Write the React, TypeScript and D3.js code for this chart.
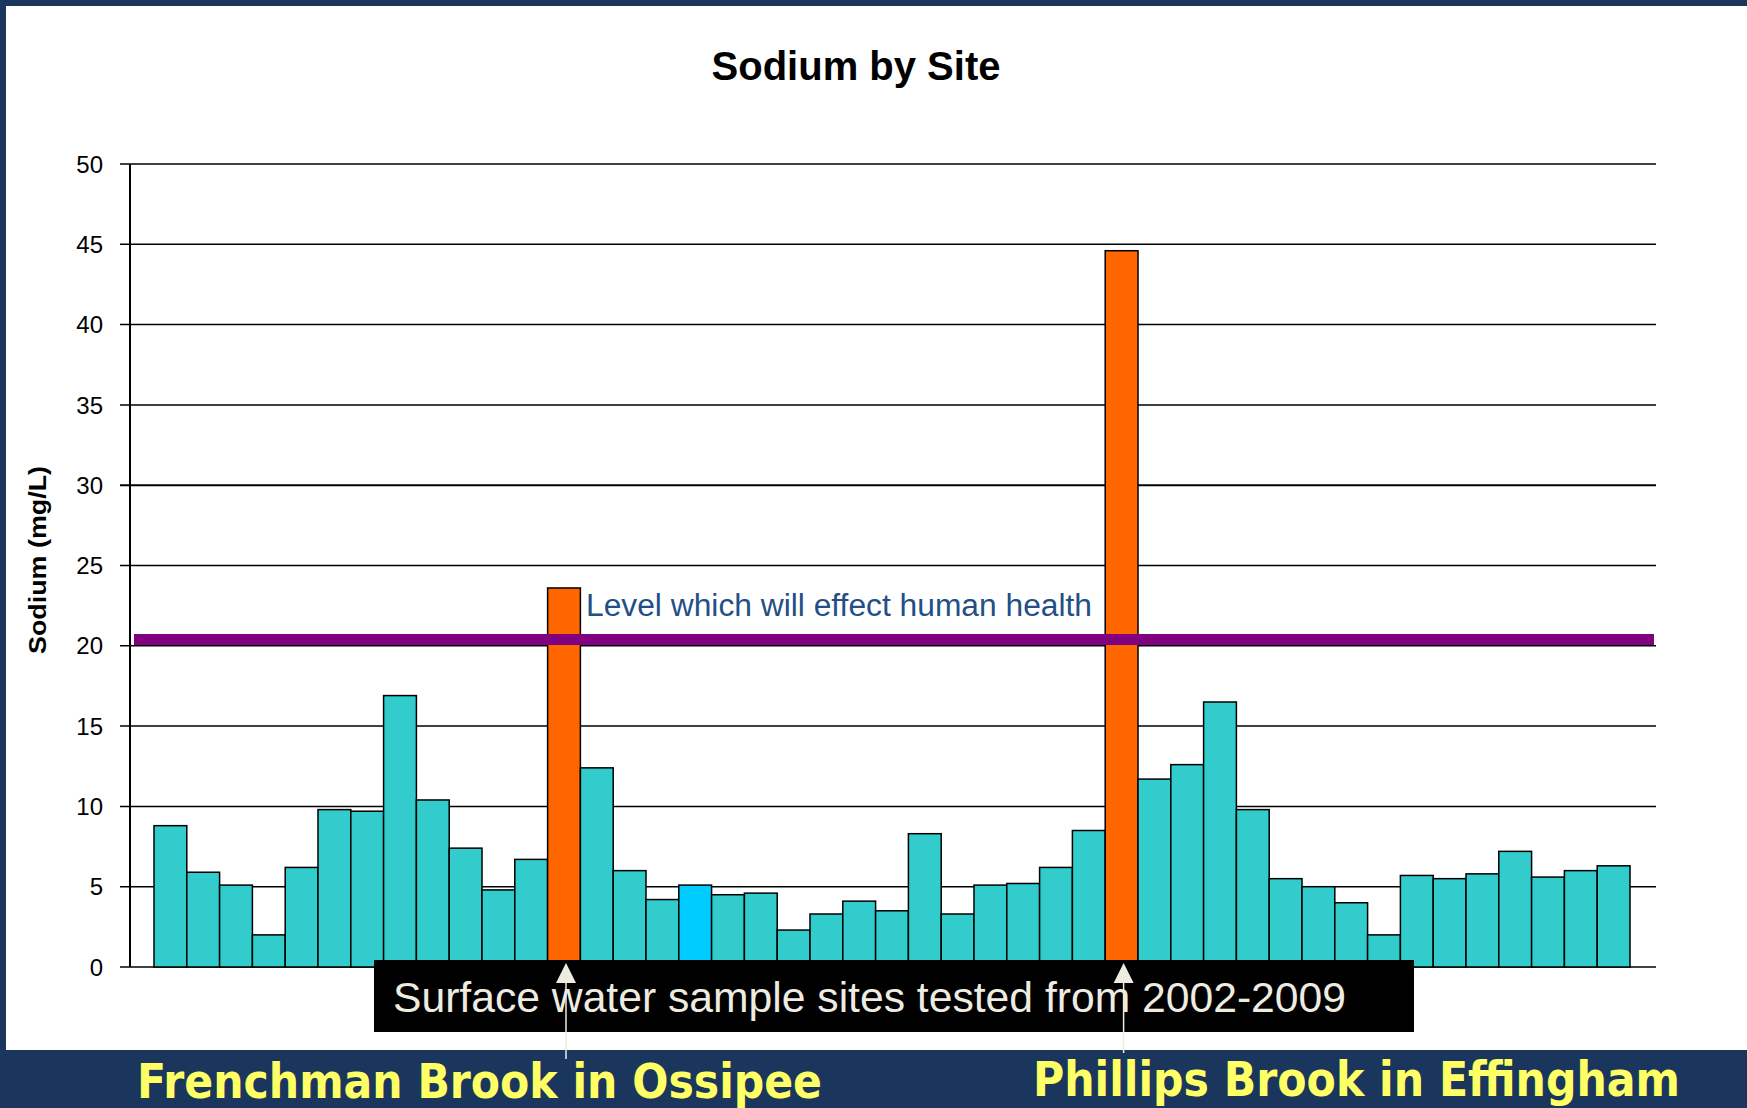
import React from 'react';
import * as d3 from 'd3';

// one value per sample site, read left to right
const sites = d3.range(1, 46).map(i => `Site ${i}`);
const sodium = [
  8.8, 5.9, 5.1, 2.0, 6.2, 9.8, 9.7, 16.9, 10.4, 7.4, 4.8, 6.7, 23.6, 12.4, 6.0,
  4.2, 5.1, 4.5, 4.6, 2.3, 3.3, 4.1, 3.5, 8.3, 3.3, 5.1, 5.2, 6.2, 8.5, 44.6,
  11.7, 12.6, 16.5, 9.8, 5.5, 5.0, 4.0, 2.0, 5.7, 5.5, 5.8, 7.2, 5.6, 6.0, 6.3,
];
const flaggedSites = ['Site 13', 'Site 30'];
const flaggedNames = ['Frenchman Brook in Ossipee', 'Phillips Brook in Effingham'];
const otherSite = 'Site 17';
const yTicks = [0, 5, 10, 15, 20, 25, 30, 35, 40, 45, 50];
const healthLevel = 20.4;

const W = 1747;
const H = 1108;
const navy = '#1b365d';

const App = () => {
  const x = d3.scaleBand<string>().domain(sites).range([154, 1630]).padding(0);
  const y = d3.scaleLinear().domain([0, 50]).range([967, 164]);

  const barColor = (s: string) =>
    flaggedSites.includes(s) ? '#ff6600' : s === otherSite ? '#00ccff' : '#33cccc';

  const arrowX = flaggedSites.map(s => (x(s) ?? 0) + x.bandwidth() / 2 + 2);
  const arrowEnd = [1059, 1053];

  return (
    <svg width={W} height={H} style={{ position: 'absolute', left: 0, top: 0, background: '#fff' }}>
      {/* frame */}
      <rect x={0} y={0} width={W} height={6} fill={navy} />
      <rect x={0} y={0} width={6} height={H} fill={navy} />
      <rect x={0} y={1050} width={W} height={H - 1050} fill={navy} />

      <text x={856} y={80} textAnchor="middle" fontFamily="Liberation Sans, Arial" fontWeight="bold" fontSize={40}>
        Sodium by Site
      </text>

      {/* grid + ticks */}
      {yTicks.map(t => (
        <g key={t}>
          <line x1={120} x2={1656} y1={y(t)} y2={y(t)} stroke="#000" strokeWidth={t === 30 ? 2 : 1.5} />
          <text x={103} y={y(t)} dy="0.36em" textAnchor="end" fontFamily="Liberation Sans, Arial" fontSize={24}>
            {t}
          </text>
        </g>
      ))}

      <text
        transform="translate(46,560) rotate(-90)"
        textAnchor="middle"
        fontFamily="Liberation Sans, Arial"
        fontWeight="bold"
        fontSize={23}
        textLength={188}
        lengthAdjust="spacingAndGlyphs"
      >
        Sodium (mg/L)
      </text>

      {/* bars */}
      {sites.map((s, i) => (
        <rect
          key={s}
          x={x(s)}
          y={y(sodium[i])}
          width={x.bandwidth()}
          height={y(0) - y(sodium[i])}
          fill={barColor(s)}
          stroke="#000"
          strokeWidth={1.5}
        />
      ))}

      <line x1={130} x2={130} y1={164} y2={967} stroke="#000" strokeWidth={2} />

      {/* health level */}
      <line x1={134} x2={1654} y1={y(healthLevel)} y2={y(healthLevel)} stroke="#800080" strokeWidth={11} />
      <text
        x={586}
        y={616}
        fontFamily="Liberation Sans, Arial"
        fontSize={31}
        fill="#234f86"
        textLength={506}
        lengthAdjust="spacingAndGlyphs"
      >
        Level which will effect human health
      </text>

      {/* caption box */}
      <rect x={374} y={960} width={1040} height={72} fill="#000" />
      <text
        x={393}
        y={1012}
        fontFamily="Liberation Sans, Arial"
        fontSize={42}
        fill="#eeece1"
        textLength={953}
        lengthAdjust="spacingAndGlyphs"
      >
        Surface water sample sites tested from 2002-2009
      </text>

      {/* arrows */}
      {arrowX.map((ax, i) => (
        <g key={i}>
          <line x1={ax} x2={ax} y1={980} y2={arrowEnd[i]} stroke="#eeece1" strokeWidth={1.5} />
          <path d={`M${ax},963 L${ax - 10},983 L${ax + 10},983 Z`} fill="#eeece1" />
        </g>
      ))}

      <text
        x={137}
        y={1098}
        fontFamily="DejaVu Sans, Verdana"
        fontWeight="bold"
        fontSize={48}
        fill="#ffff66"
        textLength={685}
        lengthAdjust="spacingAndGlyphs"
      >
        {flaggedNames[0]}
      </text>
      <text
        x={1033}
        y={1096}
        fontFamily="DejaVu Sans, Verdana"
        fontWeight="bold"
        fontSize={48}
        fill="#ffff66"
        textLength={647}
        lengthAdjust="spacingAndGlyphs"
      >
        {flaggedNames[1]}
      </text>
    </svg>
  );
};

export default App;
